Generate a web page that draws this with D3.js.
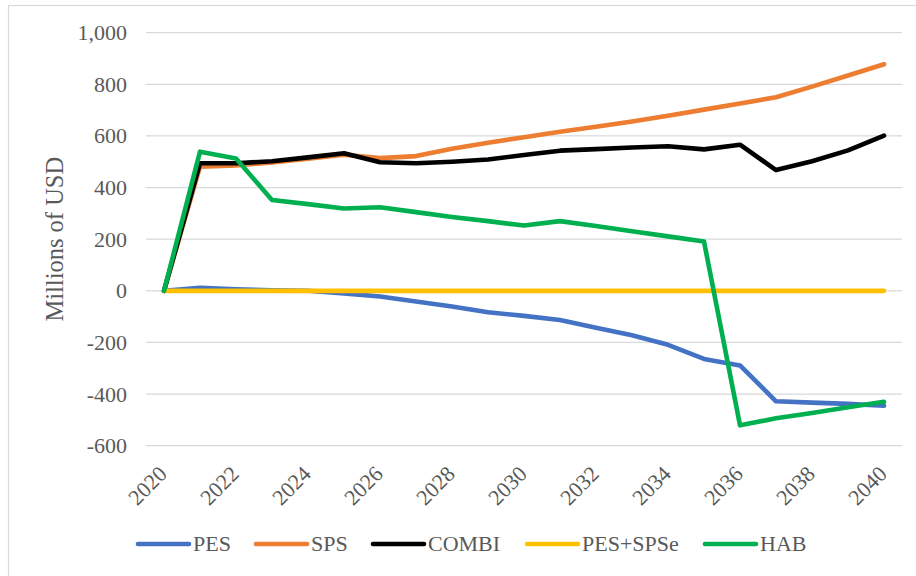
<!DOCTYPE html>
<html>
<head>
<meta charset="utf-8">
<script src="https://cdn.jsdelivr.net/npm/d3@7"></script>
<style>
  html, body { margin: 0; padding: 0; background: #fff; }
  svg { display: block; }
  text { font-family: "Liberation Serif", "Times New Roman", serif; fill: #595959; }
</style>
</head>
<body>
<svg id="chart" width="916" height="576"></svg>
<script>
// Annual values, millions of USD, 2020–2040
const years = d3.range(2020, 2041);
const pes = [0, 12, 6, 2, 0, -10, -22, -41, -61, -83, -97, -113, -143, -172, -209, -264, -289, -428, -433, -438, -445];
const sps = [0, 481, 486, 497, 512, 527, 514, 522, 550, 574, 595, 616, 636, 656, 678, 702, 726, 750, 791, 834, 878];
const combi = [0, 494, 494, 502, 517, 533, 498, 494, 500, 509, 526, 543, 549, 555, 560, 548, 566, 468, 502, 544, 601];
const pesSpse = [0, 0, 0, 0, 0, 0, 0, 0, 0, 0, 0, 0, 0, 0, 0, 0, 0, 0, 0, 0, 0];
const hab = [0, 539, 513, 352, 336, 319, 324, 305, 286, 270, 253, 270, 251, 231, 211, 191, -521, -494, -473, -451, -430];

const seriesNames = ["PES", "SPS", "COMBI", "PES+SPSe", "HAB"];
const seriesValues = [pes, sps, combi, pesSpse, hab];
const seriesColors = ["#4472C4", "#ED7D31", "#000000", "#FFC000", "#00B050"];

const yTicks = [-600, -400, -200, 0, 200, 400, 600, 800, 1000];
const xTicks = d3.range(2020, 2041, 2);
const yTitle = "Millions of USD";

const svg = d3.select("#chart");

// outer chart frame
svg.append("rect")
  .attr("x", 8.5).attr("y", 5.5)
  .attr("width", 930).attr("height", 600)
  .attr("fill", "none").attr("stroke", "#d9d9d9").attr("stroke-width", 1.2);

const plot = { left: 146, right: 902, top: 32.7, bottom: 445.7 };

const x = d3.scalePoint().domain(years).range([plot.left, plot.right]).padding(0.5);
const y = d3.scaleLinear().domain([-600, 1000]).range([plot.bottom, plot.top]);

// horizontal gridlines
svg.append("g").selectAll("line").data(yTicks).join("line")
  .attr("x1", plot.left).attr("x2", plot.right)
  .attr("y1", d => y(d)).attr("y2", d => y(d))
  .attr("stroke", "#d9d9d9").attr("stroke-width", 1.3);

// y axis labels
const fmt = d3.format(",");
svg.append("g").selectAll("text").data(yTicks).join("text")
  .attr("x", 127).attr("y", d => y(d)).attr("dy", "0.34em")
  .attr("text-anchor", "end").attr("font-size", 22)
  .text(d => fmt(d).replace("−", "-"));

// y axis title
svg.append("text")
  .attr("transform", `translate(63,${(plot.top + plot.bottom) / 2}) rotate(-90)`)
  .attr("text-anchor", "middle").attr("font-size", 24.5)
  .text(yTitle);

// x axis labels, slanted
svg.append("g").selectAll("text").data(xTicks).join("text")
  .attr("transform", d => `translate(${x(d) - 1},${470}) rotate(-45)`)
  .attr("text-anchor", "end").attr("dy", "0.34em").attr("font-size", 22)
  .text(d => d);

// series lines
const line = d3.line().x((d, i) => x(years[i])).y(d => y(d));
svg.append("g").selectAll("path").data(seriesValues).join("path")
  .attr("d", d => line(d))
  .attr("fill", "none")
  .attr("stroke", (d, i) => seriesColors[i])
  .attr("stroke-width", 4.6)
  .attr("stroke-linejoin", "round")
  .attr("stroke-linecap", "round");

// legend
const legendY = 544;
const legendX = [138, 256, 373, 527, 705];
const lg = svg.append("g").selectAll("g").data(seriesNames).join("g")
  .attr("transform", (d, i) => `translate(${legendX[i]},${legendY})`);
lg.append("line")
  .attr("x1", 0).attr("x2", 51).attr("y1", 0).attr("y2", 0)
  .attr("stroke", (d, i) => seriesColors[i]).attr("stroke-width", 4.6)
  .attr("stroke-linecap", "round");
lg.append("text")
  .attr("x", 55).attr("y", 0).attr("dy", "0.34em").attr("font-size", 22)
  .text(d => d);
</script>
</body>
</html>
